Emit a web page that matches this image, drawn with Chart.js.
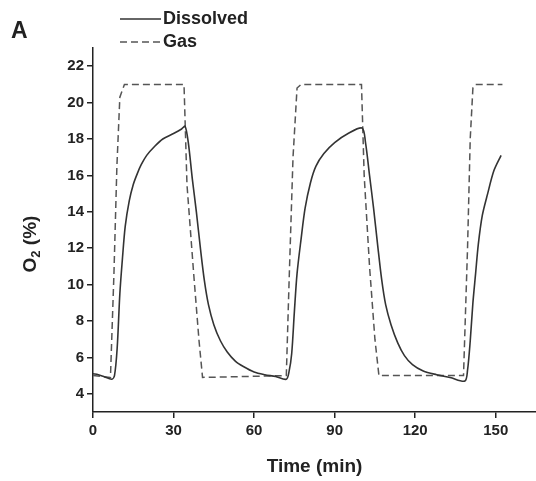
<!DOCTYPE html>
<html>
<head>
<meta charset="utf-8">
<script src="https://cdn.jsdelivr.net/npm/chart.js@4/dist/chart.umd.min.js"></script>
<style>
  body { margin: 0; background: #fff; }
  canvas { display: block; }
</style>
</head>
<body>
<canvas id="o2Chart" width="536" height="481"></canvas>
<script>
// dissolved O2 readings (time in min, O2 %)
const dissolvedTime = [0, 2, 4, 7, 8, 9, 10, 11, 12, 13.5, 15, 16.5, 18, 20, 23, 26, 30, 33, 34.3,
    35.5, 37, 38.5, 40, 41.5, 43, 45, 47.5, 50, 53, 56, 60, 64, 68, 72,
    73, 74, 75, 76, 77.5, 79, 81, 83, 86, 90, 95, 100.2,
    101.5, 103, 104.5, 106, 107.5, 109, 111, 113.5, 116, 119, 123, 128, 133, 138.5,
    139.5, 140.5, 141.5, 142.5, 143.5, 145, 147, 149.3, 152];
const dissolvedO2 = [5.1, 5.05, 4.95, 4.8, 5.0, 6.5, 9.5, 11.5, 13.2, 14.6, 15.5, 16.1, 16.6, 17.1, 17.6, 18.0, 18.3, 18.55, 18.7,
    17.8, 15.8, 14.0, 12.0, 10.2, 8.9, 7.8, 6.9, 6.3, 5.8, 5.5, 5.2, 5.05, 4.95, 4.8,
    5.2, 6.2, 8.5, 10.6, 12.5, 14.2, 15.6, 16.5, 17.2, 17.8, 18.3, 18.6,
    17.8, 16.0, 14.2, 12.2, 10.3, 8.9, 7.8, 6.8, 6.1, 5.6, 5.25, 5.05, 4.9, 4.7,
    5.3, 6.9, 9.0, 10.6, 12.2, 13.8, 15.0, 16.25, 17.1];

// gas phase O2
const gasTime = [0, 6.5, 7.8, 8.9, 10, 11.7, 20, 33.9, 35, 37.5, 39.5, 40.8, 72,
    73, 74.5, 76, 77.5, 100, 101, 103, 105, 106.5, 138, 139.5, 140.5, 141.5, 142.5, 152.5];
const gasO2 = [5.0, 4.9, 10.6, 16.5, 20.3, 21.0, 21.0, 21.0, 15.5, 10.6, 6.9, 4.9, 5.0,
    10, 17, 20.8, 21.0, 21.0, 16, 11, 7, 5.0, 5.0, 12, 18, 20.8, 21.0, 21.0];

const xTicks = [0, 30, 60, 90, 120, 150];
const yTicks = [4, 6, 8, 10, 12, 14, 16, 18, 20, 22];

const seriesNames = ['Dissolved', 'Gas'];

const toPoints = (xs, ys) => xs.map((x, i) => ({ x: x, y: ys[i] }));

const FONT = '"Liberation Sans", Arial, sans-serif';
const ink = '#222';

// panel letter, stacked legend and the y title with a real subscript
const annotate = {
    id: 'annotate',
    afterDraw(chart) {
        const ctx = chart.ctx;
        ctx.save();
        ctx.fillStyle = ink;
        ctx.textBaseline = 'middle';
        ctx.font = 'bold 23px ' + FONT;
        ctx.fillText('A', 11, 32);

        const rows = [19, 42];
        chart.data.datasets.forEach((ds, i) => {
            ctx.strokeStyle = ds.borderColor;
            ctx.lineWidth = 1.5;
            ctx.setLineDash(ds.borderDash || []);
            ctx.beginPath();
            ctx.moveTo(120, rows[i]);
            ctx.lineTo(161, rows[i]);
            ctx.stroke();
            ctx.setLineDash([]);
            ctx.font = 'bold 18px ' + FONT;
            ctx.fillText(ds.label, 163, rows[i]);
        });

        // y title
        const area = chart.chartArea;
        ctx.translate(31, 244);
        ctx.rotate(-Math.PI / 2);
        ctx.textBaseline = 'middle';
        const big = 'bold 19px ' + FONT, small = 'bold 13px ' + FONT;
        ctx.font = big;
        const wO = ctx.measureText('O').width;
        const wRest = ctx.measureText(' (%)').width;
        ctx.font = small;
        const w2 = ctx.measureText('2').width;
        let x = -(wO + w2 + wRest) / 2;
        ctx.font = big;
        ctx.fillText('O', x, 0);
        x += wO;
        ctx.font = small;
        ctx.fillText('2', x, 5);
        x += w2;
        ctx.font = big;
        ctx.fillText(' (%)', x, 0);
        ctx.restore();
    }
};

new Chart(document.getElementById('o2Chart'), {
    type: 'line',
    data: {
        datasets: [{
            label: seriesNames[0],
            data: toPoints(dissolvedTime, dissolvedO2),
            borderColor: '#333',
            borderWidth: 1.6,
            pointRadius: 0,
            tension: 0.3,
            fill: false
        }, {
            label: seriesNames[1],
            data: toPoints(gasTime, gasO2),
            borderColor: '#555',
            borderWidth: 1.5,
            borderDash: [7, 4],
            pointRadius: 0,
            tension: 0,
            fill: false
        }]
    },
    options: {
        responsive: false,
        animation: false,
        devicePixelRatio: 1,
        layout: { padding: { top: 48, right: 0, bottom: 0, left: 0 } },
        plugins: {
            legend: { display: false },
            tooltip: { enabled: false }
        },
        scales: {
            x: {
                type: 'linear',
                min: 0,
                max: 165,
                afterBuildTicks: axis => { axis.ticks = xTicks.map(v => ({ value: v })); },
                afterFit: axis => { axis.height = 69; },
                grid: { drawOnChartArea: false, drawTicks: true, tickLength: 6, color: ink, lineWidth: 1.5 },
                border: { display: true, color: ink, width: 1.5 },
                ticks: { color: ink, padding: 4, maxRotation: 0, font: { family: FONT, size: 15, weight: 'bold' } },
                title: {
                    display: true,
                    text: 'Time (min)',
                    color: ink,
                    padding: { top: 0, bottom: 3 },
                    font: { family: FONT, size: 19, weight: 'bold' }
                }
            },
            y: {
                min: 3,
                max: 23,
                afterBuildTicks: axis => { axis.ticks = yTicks.map(v => ({ value: v })); },
                afterFit: axis => { axis.width = 93; },
                grid: { drawOnChartArea: false, drawTicks: true, tickLength: 6, color: ink, lineWidth: 1.5 },
                border: { display: true, color: ink, width: 1.5 },
                ticks: { color: ink, padding: 3, font: { family: FONT, size: 15, weight: 'bold' } },
                title: { display: false }
            }
        }
    },
    plugins: [annotate]
});
</script>
</body>
</html>
